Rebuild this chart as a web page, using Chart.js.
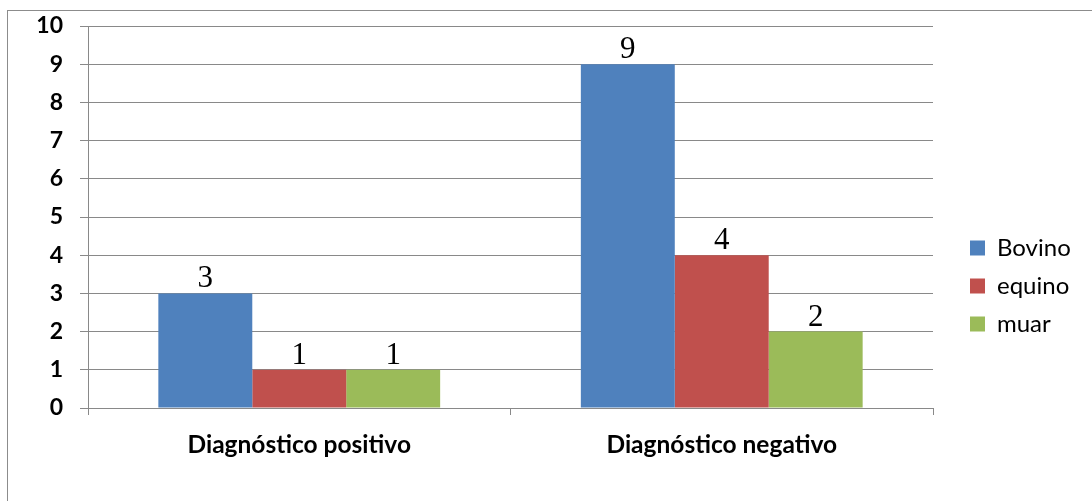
<!DOCTYPE html>
<html>
<head>
<meta charset="utf-8">
<script src="https://cdn.jsdelivr.net/npm/chart.js@4.4.1/dist/chart.umd.min.js"></script>
<style>
  html, body { margin: 0; padding: 0; background: #ffffff; }
  body { width: 1092px; height: 501px; overflow: hidden; position: relative; }
  #frame {
    position: absolute; left: 7px; top: 10px; width: 1200px; height: 600px;
    border-left: 1px solid #8c8c8c; border-top: 1px solid #8c8c8c;
  }
  #chart { position: absolute; left: 0; top: 0; }
</style>
</head>
<body>
<div id="frame"></div>
<canvas id="chart" width="1092" height="501"></canvas>
<script>
// Diagnóstico por especie
const categories = ['Diagnóstico positivo', 'Diagnóstico negativo'];
const seriesNames = ['Bovino', 'equino', 'muar'];
const bovino = [3, 9];
const equino = [1, 4];
const muar = [1, 2];
const seriesColors = ['#4f81bd', '#c0504d', '#9bbb59'];
const yTicks = [0, 1, 2, 3, 4, 5, 6, 7, 8, 9, 10];

const gridGray = '#898989';

// Value printed above each bar, taken from the bar's own data value
const valueLabels = {
  id: 'valueLabels',
  afterDatasetsDraw(chart, args, opts) {
    const ctx = chart.ctx;
    ctx.save();
    ctx.font = opts.font;
    ctx.fillStyle = opts.color;
    ctx.textAlign = 'center';
    ctx.textBaseline = 'alphabetic';
    chart.data.datasets.forEach((ds, i) => {
      chart.getDatasetMeta(i).data.forEach((bar, j) => {
        ctx.fillText(String(ds.data[j]), bar.x, bar.y - opts.offset);
      });
    });
    ctx.restore();
  }
};

// Places the legend block at a fixed spot to the right of the plot
const legendAnchor = {
  id: 'legendAnchor',
  afterLayout(chart, args, opts) {
    const lg = chart.legend;
    if (!lg) return;
    lg.left = opts.left;
    lg.top = opts.top;
    lg.right = chart.width;
    lg.bottom = chart.height;
    lg.width = lg.right - lg.left;
    lg.height = lg.bottom - lg.top;
  }
};

new Chart(document.getElementById('chart'), {
  type: 'bar',
  data: {
    labels: categories,
    datasets: [
      { label: seriesNames[0], data: bovino, backgroundColor: seriesColors[0] },
      { label: seriesNames[1], data: equino, backgroundColor: seriesColors[1] },
      { label: seriesNames[2], data: muar, backgroundColor: seriesColors[2] }
    ]
  },
  options: {
    responsive: false,
    animation: false,
    devicePixelRatio: 1,
    layout: { padding: { top: 26, left: 0, right: 99, bottom: 0 } },
    datasets: { bar: { categoryPercentage: 0.667, barPercentage: 1.0, borderWidth: 0 } },
    scales: {
      x: {
        offset: true,
        grid: { display: true, drawOnChartArea: false, drawTicks: true, tickLength: 7, color: gridGray, lineWidth: 1 },
        border: { display: true, color: gridGray, width: 1 },
        ticks: { color: '#000000', padding: 15, font: { family: 'Lato', weight: 'bold', size: 24.5 } },
        afterFit(scale) { scale.height = 93; }
      },
      y: {
        min: 0,
        max: 10,
        afterBuildTicks(scale) { scale.ticks = yTicks.map(v => ({ value: v })); },
        grid: { color: gridGray, lineWidth: 1, tickLength: 8, drawTicks: true },
        border: { display: true, color: gridGray, width: 1 },
        ticks: { color: '#000000', padding: 17, font: { family: 'Lato', weight: 'bold', size: 23 } },
        afterFit(scale) {
          scale.width = 88;
          scale.paddingTop = 0;
          scale.paddingBottom = 0;
        }
      }
    },
    plugins: {
      tooltip: { enabled: false },
      legend: {
        display: true,
        position: 'right',
        align: 'start',
        maxWidth: 60,
        labels: {
          boxWidth: 15,
          boxHeight: 15,
          padding: 14,
          color: '#000000',
          font: { family: 'Lato', size: 24 }
        }
      },
      legendAnchor: { left: 956, top: 222 },
      valueLabels: { font: '31px "Liberation Serif"', color: '#000000', offset: 6 }
    }
  },
  plugins: [valueLabels, legendAnchor]
});
</script>
</body>
</html>
